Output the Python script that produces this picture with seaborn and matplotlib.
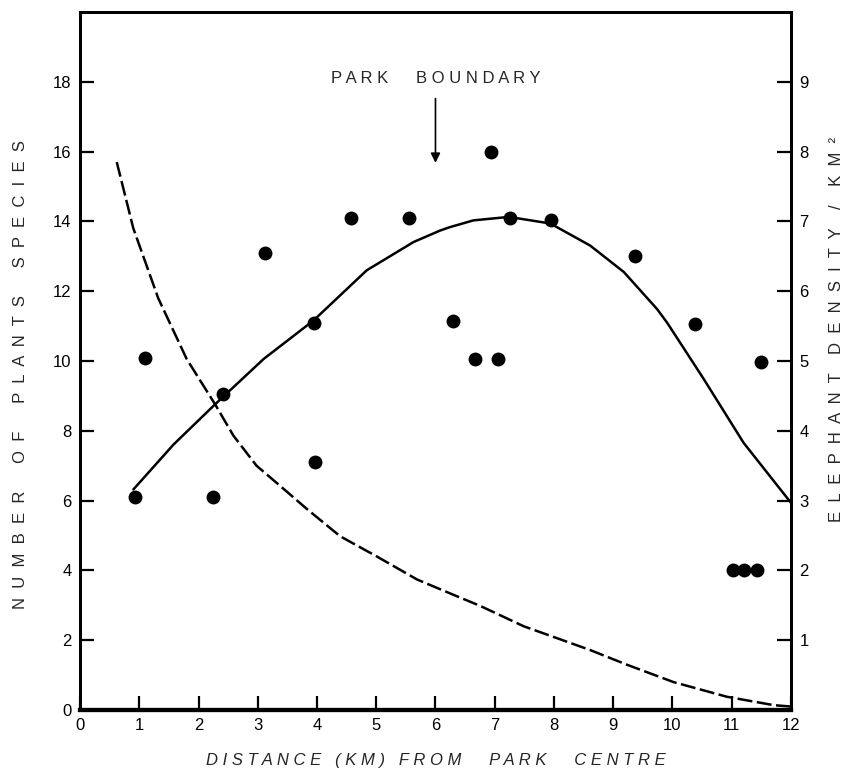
import numpy as np
import pandas as pd
import matplotlib
matplotlib.use("Agg")
import matplotlib.pyplot as plt
import seaborn as sns

# ---- data ----
# plant species counts (left axis)
dist_km = [0.93, 1.1, 2.25, 2.42, 3.13, 3.95, 3.97, 4.57, 5.56, 6.3, 6.67,
           6.93, 7.06, 7.25, 7.95, 9.36, 10.38, 11.03, 11.2, 11.42, 11.5]
n_species = [6.1, 10.1, 6.1, 9.05, 13.1, 11.1, 7.1, 14.1, 14.1, 11.15, 10.05,
             16.0, 10.05, 14.1, 14.05, 13.0, 11.05, 4.0, 4.0, 4.0, 9.96]

# fitted species curve (left axis)
fit_x = [0.9, 1.58, 2.28, 3.1, 3.94, 4.84, 5.63, 6.08, 6.25, 6.64, 7.24,
         7.94, 8.61, 9.18, 9.74, 9.91, 10.53, 11.2, 12.0]
fit_y = [6.32, 7.61, 8.76, 10.06, 11.16, 12.6, 13.41, 13.74, 13.84, 14.03,
         14.13, 13.94, 13.31, 12.55, 11.49, 11.1, 9.48, 7.66, 5.94]

# elephant density curve (right axis, per km2)
eleph_x = [0.62, 0.9, 1.32, 1.8, 2.28, 2.59, 2.98, 3.38, 3.83, 4.39, 5.01,
           5.69, 6.25, 6.76, 7.49, 8.05, 8.61, 9.23, 10.02, 10.92, 11.71, 12.0]
eleph_y = [7.85, 6.9, 5.9, 5.03, 4.38, 3.93, 3.5, 3.21, 2.88, 2.49, 2.2,
           1.87, 1.67, 1.49, 1.2, 1.03, 0.86, 0.65, 0.4, 0.19, 0.07, 0.05]

x_ticks = list(range(0, 13))
left_ticks = list(range(0, 19, 2))
right_ticks = list(range(1, 10))


def spaced(text, gap=1, word_gap=4):
    # old-style lettering: spread the letters out
    words = text.split(' ')
    return (' ' * word_gap).join((' ' * gap).join(w) for w in words)


sns.set_theme(style="ticks")
plt.rcParams['font.family'] = ['Liberation Sans', 'DejaVu Sans']

fig = plt.figure(figsize=(8.45, 7.76), dpi=100)
ax = fig.add_axes([0.0947, 0.085, 0.8413, 0.8995])

pts = pd.DataFrame({'x': dist_km, 'y': n_species})
fit = pd.DataFrame({'x': fit_x, 'y': fit_y})
ele = pd.DataFrame({'x': eleph_x, 'y': eleph_y})

sns.scatterplot(data=pts, x='x', y='y', ax=ax, s=100, color='black',
                edgecolor='black', linewidth=0, zorder=3)
sns.lineplot(data=fit, x='x', y='y', ax=ax, color='black', linewidth=1.8)

ax.set_xlim(0, 12)
ax.set_ylim(0, 20)
ax.set_xticks(x_ticks)
ax.set_yticks(left_ticks)
ax.tick_params(axis='both', direction='in', length=10, width=1.6,
               labelsize=12, colors='black', pad=6)

ax2 = ax.twinx()
sns.lineplot(data=ele, x='x', y='y', ax=ax2, color='black', linewidth=1.8,
             linestyle=(0, (6, 1.8)))
ax2.set_ylim(0, 10)
ax2.set_yticks(right_ticks)
ax2.tick_params(axis='y', direction='in', length=10, width=1.6,
                labelsize=12, colors='black', pad=6)
ax2.set_ylabel('')
ax2.set_xlabel('')

for a in (ax, ax2):
    for side in ['left', 'right', 'top']:
        a.spines[side].set_linewidth(2)
        a.spines[side].set_color('black')
    a.spines['bottom'].set_linewidth(3)
    a.spines['bottom'].set_color('black')

ax.set_xlabel(spaced('DISTANCE (KM) FROM  PARK  CENTRE', 1, 3),
              fontsize=12, style='italic', labelpad=14)
ax.set_ylabel(spaced('NUMBER OF PLANTS SPECIES', 2, 6), fontsize=12)
ax.yaxis.set_label_coords(-0.073, 0.48)
fig.text(0.99, 0.575, spaced('ELEPHANT DENSITY / KM²', 2, 4),
         rotation=90, ha='center', va='center', fontsize=12)

# park boundary marker
ax.text(6.0, 18.1, spaced('PARK BOUNDARY', 1, 6), ha='center', va='center',
        fontsize=12)
ax.annotate('', xy=(6.0, 15.6), xytext=(6.0, 17.6),
            arrowprops=dict(arrowstyle='-|>', color='black', lw=1.2,
                            mutation_scale=14))

fig.savefig('out.png', dpi=100)
